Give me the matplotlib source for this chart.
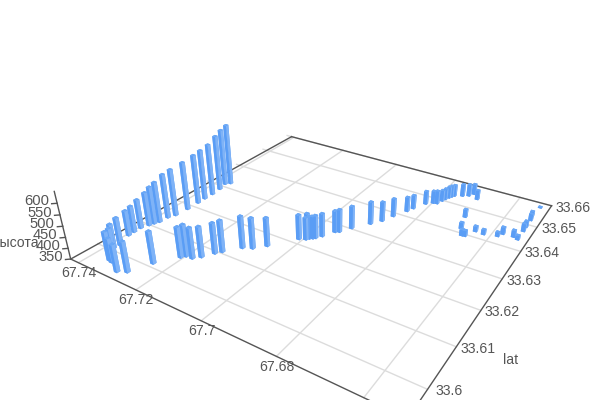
import numpy as np
import matplotlib
matplotlib.use('Agg')
import matplotlib.pyplot as plt
from mpl_toolkits.mplot3d import proj3d

lon = [67.7360,67.7371,67.7363,67.7360,67.7361,67.7360,67.7360,67.7364,67.7373,67.7375,67.7381,67.7386,67.7394,67.7394,
67.7393,67.7375,67.7378,67.7362,67.7345,67.7334,67.7292,67.7270,67.7245,67.7207,67.7199,67.7180,67.7165,67.7148,
67.7137,67.7106,67.7083,67.7059,67.7010,67.6994,67.6998,67.6989,67.6982,67.6977,67.6967,67.6950,67.6941,67.6923,
67.6892,67.6873,67.6859,67.6840,67.6832,67.6814,67.6798,67.6788,67.6782,67.6778,67.6773,67.6769,67.6764,67.6744,
67.6729,67.6720,67.6701,67.6692,67.6678,67.6664,67.6656,67.6641,67.6618,67.6584,67.6576,67.6548,67.6535,67.6535,
67.6536,67.6536,67.6540,67.6534]
lat = [33.6320,33.6311,33.6287,33.6261,33.6238,33.6217,33.6186,33.6155,33.6140,33.6119,33.6109,33.6099,33.6083,33.6066,
33.6052,33.6020,33.6006,33.5994,33.5976,33.5974,33.5959,33.5968,33.6011,33.6051,33.6059,33.6060,33.6072,33.6094,
33.6105,33.6135,33.6144,33.6165,33.6216,33.6222,33.6231,33.6228,33.6232,33.6236,33.6248,33.6274,33.6279,33.6303,
33.6337,33.6359,33.6387,33.6420,33.6437,33.6468,33.6480,33.6482,33.6498,33.6508,33.6518,33.6525,33.6532,33.6541,
33.6549,33.6562,33.6544,33.6462,33.6417,33.6394,33.6395,33.6422,33.6420,33.6428,33.6441,33.6442,33.6437,33.6472,
33.6490,33.6520,33.6538,33.6580]
height = [649,628,620,601,592,587,580,573,560,542,527,508,487,474,
468,479,463,466,481,460,474,489,497,491,497,492,491,492,
497,499,493,483,466,455,462,456,456,458,459,453,458,457,
458,444,438,421,417,415,412,415,405,405,407,407,406,411,
409,402,397,389,380,379,378,376,374,371,384,383,371,388,
380,383,374,355]

lon_ticks = [67.74, 67.72, 67.7, 67.68, 67.66]
lat_ticks = [33.6, 33.61, 33.62, 33.63, 33.64, 33.65, 33.66]
z_ticks = [350, 400, 450, 500, 550, 600]
lon_labels = ['67.74', '67.72', '67.7', '67.68']
lat_labels = ['33.6', '33.61', '33.62', '33.63', '33.64', '33.65', '33.66']

lon0, lon1 = 67.741, 67.651
lat0, lat1 = 33.594, 33.66
z0, z1 = 350, 650
lon_front = 67.7429

plt.rcParams['font.family'] = ['Liberation Sans', 'DejaVu Sans']
fig = plt.figure(figsize=(6, 4), dpi=100)
s, cx, cy = 2644.47, 330.73, 200.29
size = s*0.185
ax = fig.add_axes([(cx-s*0.095)/600, (400-cy-s*0.095)/400, size/600, size/400], projection='3d')
ax.view_init(29.264, -57.39)
ax.set_proj_type('persp', focal_length=0.2393)
ax.set_box_aspect((4.772, 4.774, 1))
ax.set_axis_off()

lon = np.array(lon)
lat = np.array(lat)
height = np.array(height)
dx = 0.00105
dy = 0.00077
# bottom, top, -y, +y, -x, +x
faces = ['#5a9df5', '#6aa8f6', '#5a9df5', '#5a9df5', '#7fb3f7', '#7fb3f7']
ax.bar3d(lon-dx/2, lat-dy/2, np.full(len(lon), z0), dx, dy, height-z0,
         color=faces*len(lon), linewidth=0, shade=False)

grid = '#dcdcdc'
dark = '#555555'
for v in lon_ticks:
    ax.plot([v, v], [lat0, lat1], [z0, z0], color=grid, lw=1, clip_on=False)
for v in lat_ticks:
    ax.plot([lon_front, lon1], [v, v], [z0, z0], color=grid, lw=1, clip_on=False)
ax.plot([lon_front, lon0], [lat0, lat1], [z0, z0], color=dark, lw=1, clip_on=False)
ax.plot([lon0, lon1], [lat1, lat1], [z0, z0], color=dark, lw=1, clip_on=False)
ax.plot([lon1, lon1], [lat1, lat0], [z0, z0], color=dark, lw=1, clip_on=False)
ax.plot([lon1, lon_front], [lat0, lat0], [z0, z0], color=dark, lw=1, clip_on=False)
ax.plot([lon_front, lon_front], [lat0, lat0], [z0, z1], color=dark, lw=1, clip_on=False)
for v in z_ticks:
    ax.plot([lon_front, lon_front+0.0009], [lat0, lat0-0.0006], [v, v], color=dark, lw=1, clip_on=False)

ax.set_xlim(lon0, lon1, view_margin=0)
ax.set_ylim(lat0, lat1, view_margin=0)
ax.set_zlim(z0, z1, view_margin=0)

M = ax.get_proj()
def label(x, y, z, text, ox, oy, ha, fs=10.1):
    X, Y, _ = proj3d.proj_transform(x, y, z, M)
    ax.annotate(text, xy=(X, Y), xytext=(ox, oy), textcoords='offset pixels', ha=ha, va='center',
                fontsize=fs, color='#555555', annotation_clip=False)

for v, t in zip(lon_ticks, lon_labels):
    label(v, lat0, z0, t, 0.5, -10.5, 'center')
for v, t in zip(lat_ticks, lat_labels):
    label(lon1, v, z0, t, 21.5, -2, 'center')
for v in z_ticks:
    label(lon_front, lat0, v, str(v), -8, 2, 'right', 10.6)

fig.text(39/600, 1-243/400, 'высота', ha='right', va='center', fontsize=10.1, color='#555555')
fig.text(511/600, 1-360/400, 'lat', ha='center', va='center', fontsize=10.1, color='#555555')

fig.savefig('out.png', dpi=100)
